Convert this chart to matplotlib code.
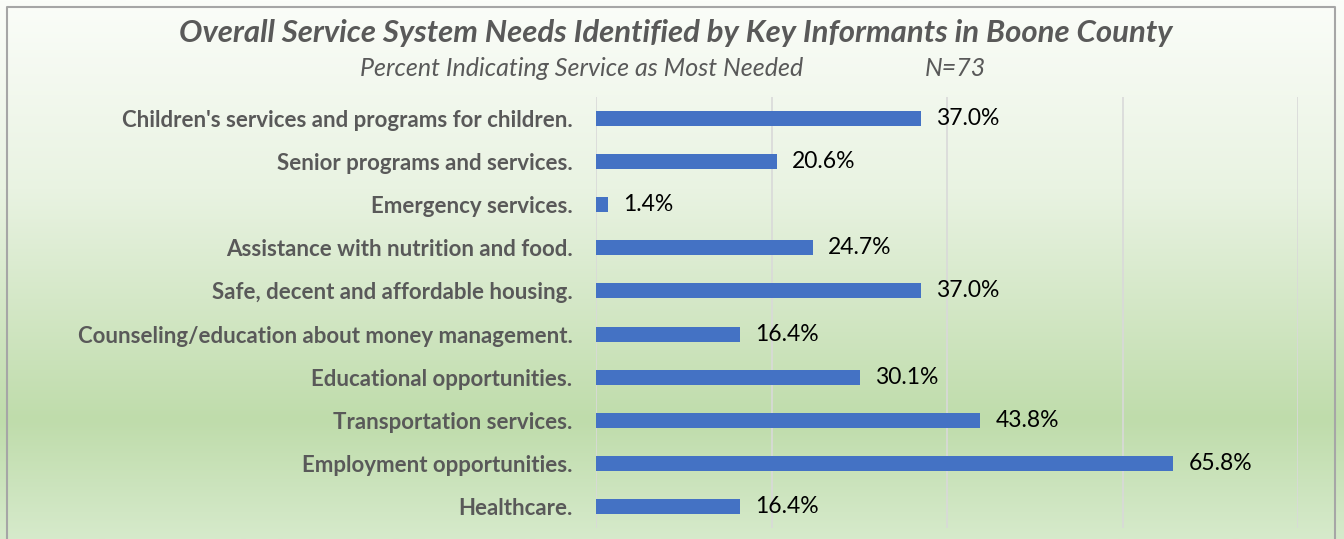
import numpy as np
import matplotlib.pyplot as plt
from matplotlib.colors import LinearSegmentedColormap

services = [
    "Children's services and programs for children.",
    "Senior programs and services.",
    "Emergency services.",
    "Assistance with nutrition and food.",
    "Safe, decent and affordable housing.",
    "Counseling/education about money management.",
    "Educational opportunities.",
    "Transportation services.",
    "Employment opportunities.",
    "Healthcare.",
]
percent = [37.0, 20.6, 1.4, 24.7, 37.0, 16.4, 30.1, 43.8, 65.8, 16.4]
grid_ticks = [0, 20, 40, 60, 80]

plt.rcParams['font.family'] = ['Lato', 'DejaVu Sans']

fig = plt.figure(figsize=(13.44, 5.39), dpi=100)

# background: white at the top fading to a soft green
bg = fig.add_axes([0, 0, 1, 1], zorder=0)
grad = LinearSegmentedColormap.from_list(
    'bg', [(0.0, '#fbfdf9'), (0.35, '#e9f3e2'), (0.78, '#bfdcab'), (1.0, '#d6eacb')])
bg.imshow(np.linspace(1, 0, 256).reshape(-1, 1), aspect='auto', cmap=grad,
          extent=[0, 1, 0, 1], origin='lower')
bg.set_xlim(0, 1)
bg.set_ylim(0, 1)
bg.axis('off')
# chart border
bg.plot([0.0055, 0.0055, 0.9935, 0.9935], [0, 0.987, 0.987, 0],
        color='#a6a6a6', lw=1.5, solid_capstyle='butt')

ax = fig.add_axes([596 / 1344, 1 - 528 / 539, (1298 - 596) / 1344, (528 - 97) / 539],
                  zorder=1)
ax.patch.set_alpha(0)
y = np.arange(len(services))
ax.barh(y, percent, height=0.35, color='#4472c4', zorder=3)
ax.set_xlim(0, 80)
ax.set_ylim(len(services) - 0.5, -0.5)
ax.set_xticks(grid_ticks)
ax.set_xticklabels([])
ax.grid(axis='x', color='#d9d9d9', lw=1.2, zorder=0)
ax.tick_params(length=0)
for s in ax.spines.values():
    s.set_visible(False)
ax.set_yticks(y)
ax.set_yticklabels(services, fontsize=16, fontweight='bold', color='#595959')
ax.tick_params(axis='y', pad=17)

for yi, v in zip(y, percent):
    ax.text(v + 1.7, yi, f'{v:.1f}%', va='center', ha='left', fontsize=16.5, color='#000000')

fig.text(0.503, 1 - 33 / 539, 'Overall Service System Needs Identified by Key Informants in Boone County',
         ha='center', va='center', fontsize=22.4, fontweight='bold', fontstyle='italic', color='#595959')
fig.text(360 / 1344, 1 - 68 / 539, 'Percent Indicating Service as Most Needed',
         ha='left', va='center', fontsize=18, fontstyle='italic', color='#595959')
fig.text(925 / 1344, 1 - 68 / 539, 'N=73',
         ha='left', va='center', fontsize=18, fontstyle='italic', color='#595959')

fig.savefig('out.png', dpi=100)
